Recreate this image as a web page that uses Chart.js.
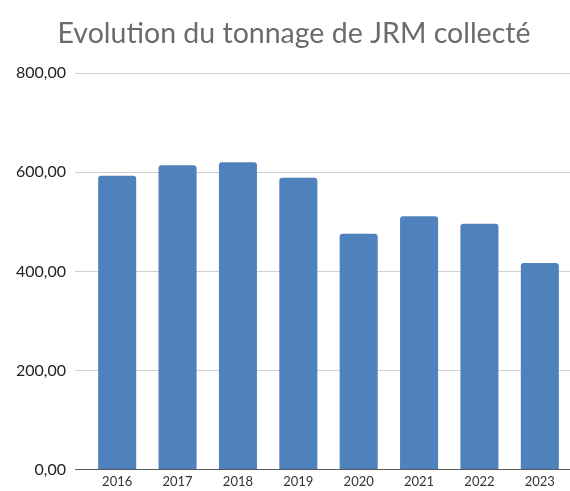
<!DOCTYPE html>
<html>
<head>
  <meta charset="utf-8">
  <title>Evolution du tonnage de JRM collecté</title>
  <script src="https://cdn.jsdelivr.net/npm/chart.js@4/dist/chart.umd.min.js"></script>
  <style>
    body { margin: 0; padding: 0; background: #fff; }
    #wrap { width: 570px; height: 491px; }
  </style>
</head>
<body>
  <div id="wrap"><canvas id="chart" width="570" height="491"></canvas></div>
  <script>
    // values
    const years = ['2016', '2017', '2018', '2019', '2020', '2021', '2022', '2023'];
    const tonnage = [593, 614, 620, 589, 476, 511, 496, 417];
    const yTicks = [0, 200, 400, 600, 800];

    const fmt = v => v.toFixed(2).replace('.', ',');

    // the title in the reference sits a little right of the canvas centre
    const shiftTitle = {
      id: 'shiftTitle',
      afterLayout(chart) {
        if (chart.titleBlock) chart.titleBlock.left += 18;
      },
    };

    new Chart(document.getElementById('chart'), {
      type: 'bar',
      data: {
        labels: years,
        datasets: [{
          label: 'Tonnage',
          data: tonnage,
          backgroundColor: '#4f81bd',
          borderRadius: { topLeft: 3, topRight: 3 },
          borderSkipped: 'bottom',
          categoryPercentage: 0.63,
          barPercentage: 1,
        }],
      },
      options: {
        responsive: false,
        animation: false,
        layout: { padding: 0 },
        plugins: {
          legend: { display: false },
          tooltip: { enabled: false },
          title: {
            display: true,
            text: 'Evolution du tonnage de JRM collecté',
            color: '#6b6b6b',
            font: { family: 'Lato', size: 28.5, weight: 'normal' },
            padding: { top: 17, bottom: 22 },
          },
        },
        scales: {
          x: {
            grid: { display: false, drawTicks: false },
            border: { display: false },
            ticks: { color: '#333', font: { family: 'Lato', size: 13 }, padding: 5 },
            afterFit: s => { s.height = 21.5; },
          },
          y: {
            min: 0,
            max: 800,
            afterBuildTicks: s => { s.ticks = yTicks.map(v => ({ value: v })); },
            border: { display: false },
            grid: {
              color: c => c.tick && c.tick.value === 0 ? '#595959' : '#d0d0d0',
              lineWidth: 1,
              tickLength: 12,
            },
            ticks: {
              color: '#222',
              font: { family: 'Lato', size: 16 },
              padding: 9,
              callback: v => fmt(v),
            },
            afterFit: s => { s.width = 87; },
          },
        },
      },
      plugins: [shiftTitle],
    });
  </script>
</body>
</html>
